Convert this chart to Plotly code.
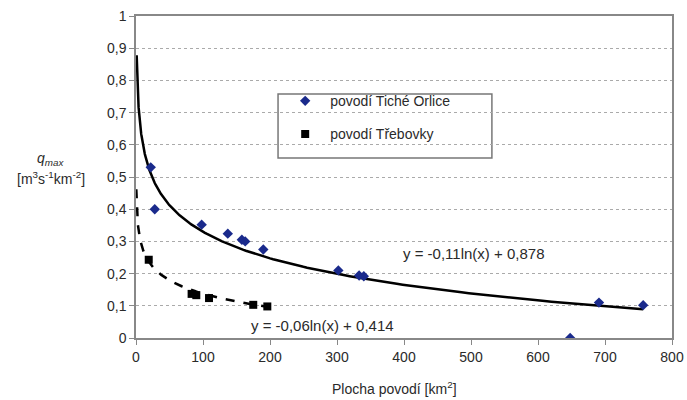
import numpy as np
import plotly.graph_objects as go

# Data
orlice_x = [22, 28, 98, 137, 158, 163, 190, 302, 333, 340, 648, 691, 757]
orlice_y = [0.53, 0.40, 0.352, 0.324, 0.305, 0.30, 0.275, 0.21, 0.194, 0.192, 0.0, 0.11, 0.102]
trebovky_x = [19, 83, 90, 109, 175, 196]
trebovky_y = [0.243, 0.137, 0.133, 0.124, 0.103, 0.098]

# Trendline coefficients (curve as drawn; labels show rounded values)
fit_orlice = (-0.119, 0.878)
fit_trebovky = (-0.06, 0.414)
label_orlice = "y = -0,11ln(x) + 0,878"
label_trebovky = "y = -0,06ln(x) + 0,414"

x_ticks = [0, 100, 200, 300, 400, 500, 600, 700, 800]
y_ticks = [0, 0.1, 0.2, 0.3, 0.4, 0.5, 0.6, 0.7, 0.8, 0.9, 1]
y_tick_text = ["0", "0,1", "0,2", "0,3", "0,4", "0,5", "0,6", "0,7", "0,8", "0,9", "1"]

FONT = "Liberation Sans, Arial, sans-serif"
TXT = "#2a2a2a"

tx1 = np.geomspace(1, 757, 300)
ty1 = fit_orlice[0] * np.log(tx1) + fit_orlice[1]
tx2 = np.geomspace(0.45, 196, 300)
ty2 = fit_trebovky[0] * np.log(tx2) + fit_trebovky[1]

fig = go.Figure()
fig.add_trace(go.Scatter(x=tx1, y=ty1, mode="lines", line=dict(color="black", width=2.5),
                         showlegend=False, hoverinfo="skip"))
fig.add_trace(go.Scatter(x=tx2, y=ty2, mode="lines", line=dict(color="black", width=2.5, dash="dash"),
                         showlegend=False, hoverinfo="skip"))
fig.add_trace(go.Scatter(x=orlice_x, y=orlice_y, mode="markers", name="povodí Tiché Orlice",
                         legendgroup="a",
                         marker=dict(symbol="diamond", size=8, color="#1a2a8c")))
fig.add_trace(go.Scatter(x=trebovky_x, y=trebovky_y, mode="markers", name="povodí Třebovky",
                         legendgroup="b",
                         marker=dict(symbol="square", size=8, color="black")))

fig.add_annotation(x=503, y=0.262, text=label_orlice, showarrow=False,
                   font=dict(family=FONT, size=15, color=TXT))
fig.add_annotation(x=278, y=0.04, text=label_trebovky, showarrow=False,
                   font=dict(family=FONT, size=15, color=TXT))

# y-axis title (two lines, as in the reference)
fig.add_annotation(xref="paper", yref="paper", x=-0.159, y=0.556, xanchor="center", yanchor="middle",
                   text="<i>q<sub>max</sub></i>",
                   showarrow=False, font=dict(family=FONT, size=14, color=TXT))
fig.add_annotation(xref="paper", yref="paper", x=-0.159, y=0.497, xanchor="center", yanchor="middle",
                   text="[m<sup>3</sup>s<sup>-1</sup>km<sup>-2</sup>]",
                   showarrow=False, font=dict(family=FONT, size=14, color=TXT))
fig.add_annotation(xref="paper", yref="paper", x=0.483, y=-0.155, xanchor="center", yanchor="middle",
                   text="Plocha povodí [km<sup>2</sup>]",
                   showarrow=False, font=dict(family=FONT, size=14, color=TXT))

# legend frame
fig.add_shape(type="rect", xref="paper", yref="paper", x0=0.265, x1=0.664, y0=0.559, y1=0.758,
              line=dict(color="#777", width=1.5), fillcolor="white", layer="between")

fig.update_layout(
    width=687, height=400,
    margin=dict(l=136, r=15, t=16, b=62),
    paper_bgcolor="white", plot_bgcolor="white",
    font=dict(family=FONT, size=14, color=TXT),
    legend=dict(x=0.269, y=0.785, xanchor="left", yanchor="top",
                borderwidth=0, bgcolor="rgba(0,0,0,0)", itemwidth=40,
                font=dict(size=14), tracegroupgap=12),
    xaxis=dict(range=[0, 800], tickvals=x_ticks, showgrid=False, zeroline=False,
               showline=True, linecolor="#888", linewidth=1.5, mirror=True,
               ticks="outside", ticklen=5, tickcolor="#888", automargin=False),
    yaxis=dict(range=[0, 1], tickvals=y_ticks, ticktext=y_tick_text, showgrid=True,
               gridcolor="#aaa", griddash="dot", gridwidth=1.2, zeroline=False,
               showline=True, linecolor="#888", linewidth=1.5, mirror=True,
               ticks="outside", ticklen=5, tickcolor="#888", automargin=False),
)

fig.write_html("out.html")
